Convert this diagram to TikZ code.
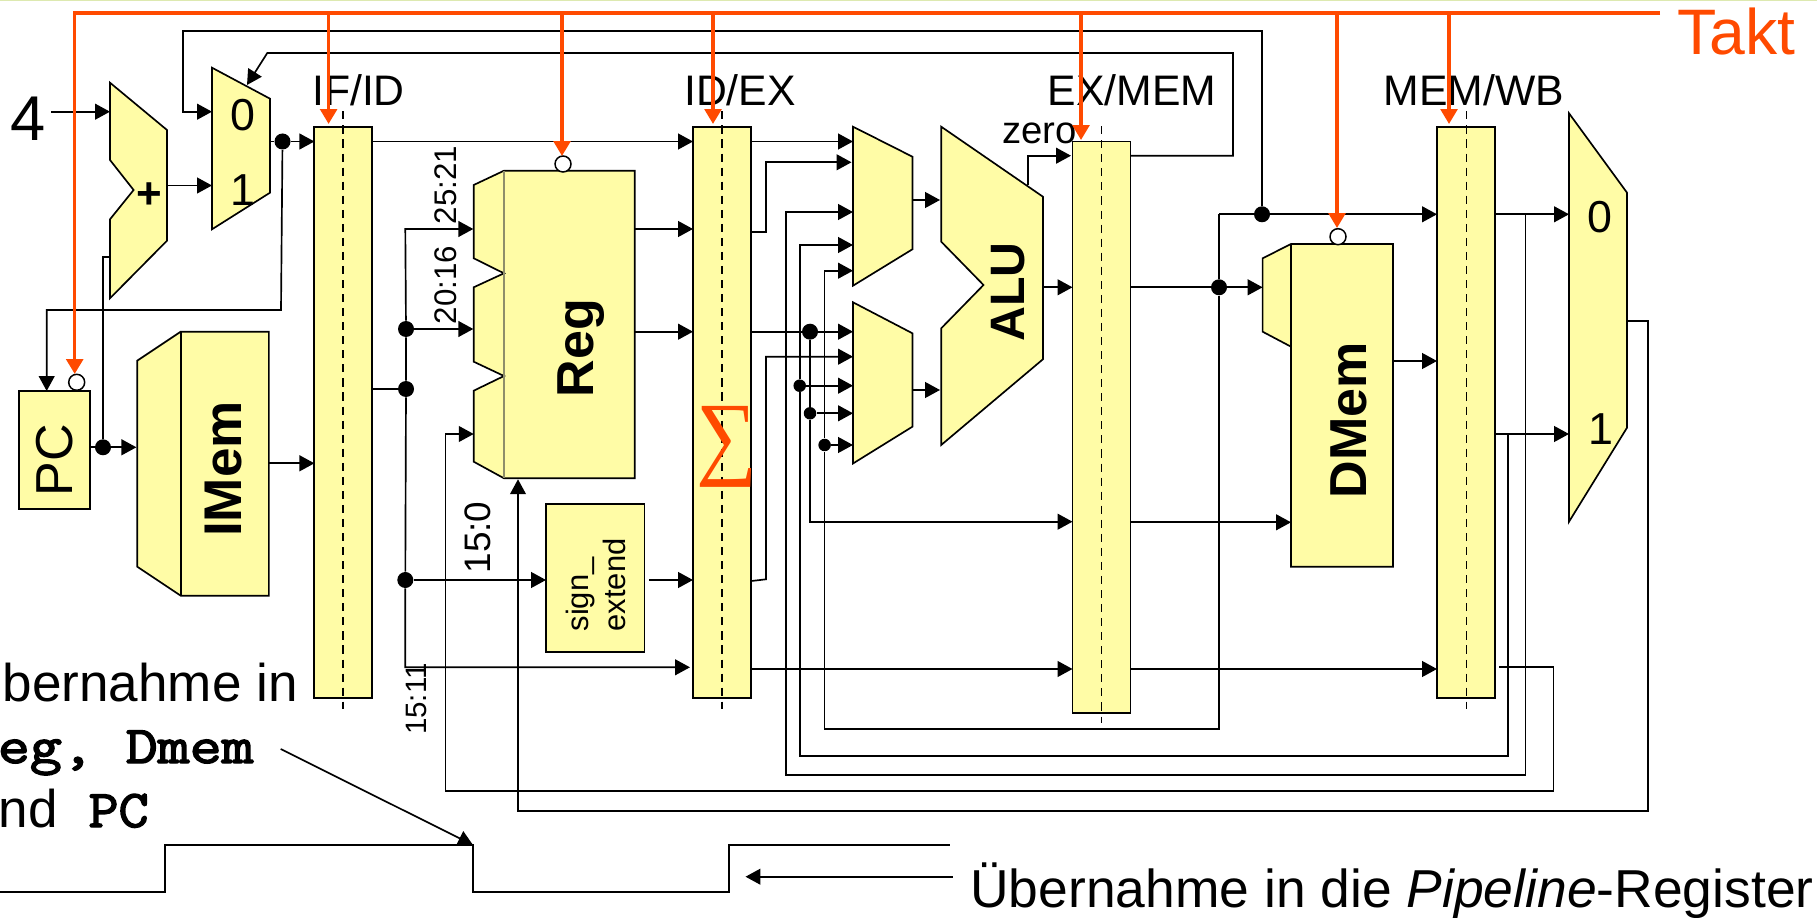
\documentclass[tikz,border=0pt]{standalone}
\usepackage{fontspec}
\setmainfont{Liberation Sans}
\newfontfamily\codefont{Latin Modern Mono}[FakeBold=2.6]
\newfontfamily\sigmafont{Liberation Serif}
\usepackage{graphicx}
\definecolor{RegYellow}{HTML}{FFFCA6}
\definecolor{ClockRed}{HTML}{FF4A00}
\definecolor{TopGreen}{HTML}{DDE9B0}
\definecolor{EdgeGray}{HTML}{8E8E6A}
\usetikzlibrary{arrows.meta}
\begin{document}
\begin{tikzpicture}[x=0.02cm, y=-0.02cm]

\tikzset{
  wire/.style={black, line width=0.95pt},
  wirearrow/.style={wire, -{Triangle[length=8.5pt, width=9pt]}},
  block/.style={draw=black, fill=RegYellow, line width=0.95pt},
  regbox/.style={block, rectangle, inner sep=0pt, minimum width=1.16cm, minimum height=11.43cm},
  regdash/.style={black, line width=0.9pt, dash pattern=on 4.6pt off 3.4pt},
  clockwire/.style={ClockRed, line width=2pt},
  clockarrow/.style={clockwire, -{Triangle[length=8.5pt, width=9.5pt]}},
  clockpin/.style={circle, draw=black, fill=white, line width=0.85pt, inner sep=0pt, minimum size=0.32cm},
  junction/.style={circle, fill=black, inner sep=0pt, minimum size=0.32cm},
  smalljunction/.style={circle, fill=black, inner sep=0pt, minimum size=0.25cm},
  reglabel/.style={inner sep=0pt, anchor=base, font=\fontsize{24.3}{29}\selectfont},
  muxlabel/.style={inner sep=0pt, font=\fontsize{25.5}{30}\selectfont},
  unitlabel/.style={inner sep=0pt, rotate=90, font=\fontsize{29.6}{35}\selectfont\bfseries},
  bitlabel/.style={inner sep=0pt, rotate=90, font=\fontsize{17.8}{21}\selectfont},
  notetext/.style={inner sep=0pt, anchor=base east, font=\fontsize{30.2}{36}\selectfont},
}

  \useasboundingbox (0,0) rectangle (1817,918);
  \clip (0,0) rectangle (1817,918);
  \fill[TopGreen] (0,0) rectangle (1817,1.5);

  % ── Pins and corners ──────────────────────────────────────
  \foreach \n/\x/\y in {
    fourout/51.4/111.7, addin/110/111.7, addout/167/185.5, addcin/110/257.3, addcorner/103/257.3,
    muxa/212/111.7, muxb/212/185.5, muxsel/247/85, muxout/270/141.5,
    brtr/1262/31, brtl/182.7/31, brbl/182.7/111.7,
    selstart/1130.6/155.7, selbr/1233/155.7, seltr/1233/53, seltl/267.3/53,
    ifin/314.4/141.5, fba/281/310, fbb/46.7/310, pcin/46.7/391, pcout/90/447.3,
    imin/136.4/447.3, imout/269/463.3, ifin2/314.4/463.3,
    ifout/372/141.5, ifout2/372/389, idin/693/141.5,
    bustop/405.3/229, busbot/405.3/667.3, regina/473.3/229, reginb/473.3/329,
    sein/546/580, seout/649.4/580, idinse/693/580, idinbus/690/667.3,
    regouta/634.8/229, regoutb/634.8/331.7, idina/693/229, idinb/693/331.7,
    wrstart/1499/666.7, wra/1553.5/666.7, wrb/1553.5/790.7, wrc/445.6/790.7, wrd/445.6/434, wrend/473.7/434,
    wdstart/1627/321, wda/1648/321, wdb/1648/811, wdc/518/811, wdend/518/479.3,
    idout/751.4/141.5, aina/853/141.5,
    idoutb/751.4/232.3, ibb/766/232.3, ibc/766/162.3, ainb/851.5/162.3,
    idoutc/751.4/331.7, bina/853/331.7,
    idoutd/751.4/581, idd/766/579.3, ide/766/356.7, binb/853/356.7,
    bind/853/413.3, dropb/810/521.7, exinb/1072.5/521.7,
    fa/1525.5/214.3, fb/1525.5/775.3, fc/786/775.3, fd/786/212, ainc/853/212,
    ga/1508/434, gb/1508/756, gc/799.7/756, gd/799.7/245, aind/853/245, binc/853/385.7,
    ha/1219/214.3, hb/1219/729.3, hc/824.6/729.3, hd/824.6/270.7, aine/853/270.7, bine/853/445,
    aout/912.4/200, alua/940/200, bout/912.4/390, alub/940/390,
    zeroa/1028/185, zerob/1028/155.7, zeroc/1071/155.7,
    aluout/1042.9/287.3, exina/1072.5/287.3,
    idoutf/751.4/669, exinc/1072.5/669,
    exouta/1130.6/287.3, dmina/1262.6/287.3,
    exoutb/1130.6/522.3, dminb/1291/522.3,
    exoutc/1130.6/669, wbinc/1437/669, wbin/1437/214.3,
    dmout/1393/361, wbinb/1437/361,
    wbouta/1495/214.3, wbmuxa/1569/214.3,
    wboutb/1495/434, wbmuxb/1569/434,
    notefrom/280.7/749, edgea/473/845, waveaa/0/891.7, waveab/165/891.7, waveac/165/845,
    wavead/473/891.7, waveae/729/891.7, waveaf/729/845, waveag/950/845,
    notearrowa/952.7/876.7, notearrowb/745.5/876.7
  }{
    \coordinate (\n) at (\x,\y);
  }

  % ── Labels of the pipeline registers ──────────────────────
  \node[reglabel] (ifidlabel) at (358.5,106) {IF/ID};
  \node[reglabel] (idexlabel) at (740,106) {ID/EX};
  \node[reglabel] (exmemlabel) at (1132,106) {EX/MEM};
  \node[reglabel] (memwblabel) at (1474,106) {MEM/WB};

  % ── Wires ─────────────────────────────────────────────────
  \node[junction] (dotpc) at (282.5,141.5) {};
  \node[junction] (dotim) at (103,447.3) {};
  \node[junction] (dotrt) at (406,329) {};
  \node[junction] (dotdec) at (406,389) {};
  \node[junction] (dotse) at (405.3,580) {};
  \node[junction] (dotb) at (810,331.7) {};
  \node[smalljunction] (dotbb) at (810,413.3) {};
  \node[smalljunction] (dotg) at (799.7,385.7) {};
  \node[smalljunction] (doth) at (824.6,445) {};
  \node[junction] (dotm) at (1219,287.3) {};
  \node[junction] (dotbr) at (1262,214.3) {};

  \draw[wirearrow] (fourout) -- (addin);
  \draw[wirearrow] (addout) -- (muxb);
  \draw[wirearrow] (dotbr) -- (brtr) -- (brtl) -- (brbl) -- (muxa);
  \draw[wirearrow] (selstart) -- (selbr) -- (seltr) -- (seltl) -- (muxsel);
  \draw[wire] (muxout) -- (dotpc);
  \draw[wirearrow] (dotpc) -- (ifin);
  \draw[wirearrow] (dotpc) -- (fba) -- (fbb) -- (pcin);
  \draw[wire] (pcout) -- (dotim);
  \draw[wirearrow] (dotim) -- (imin);
  \draw[wire] (dotim) -- (addcorner) -- (addcin);
  \draw[wirearrow] (imout) -- (ifin2);
  \draw[wirearrow] (ifout) -- (idin);
  \draw[wire] (ifout2) -- (dotdec);
  \draw[wirearrow] (dotdec) -- (dotrt) -- (bustop) -- (regina);
  \draw[wirearrow] (dotrt) -- (reginb);
  \draw[wirearrow] (dotdec) -- (dotse) -- (busbot) -- (idinbus);
  \draw[wirearrow] (dotse) -- (sein);
  \draw[wirearrow] (seout) -- (idinse);
  \draw[wirearrow] (regouta) -- (idina);
  \draw[wirearrow] (regoutb) -- (idinb);
  \draw[wirearrow] (wrstart) -- (wra) -- (wrb) -- (wrc) -- (wrd) -- (wrend);
  \draw[wirearrow] (wdstart) -- (wda) -- (wdb) -- (wdc) -- (wdend);

  \draw[wirearrow] (idout) -- (aina);
  \draw[wirearrow] (idoutb) -- (ibb) -- (ibc) -- (ainb);
  \draw[wire] (idoutc) -- (dotb);
  \draw[wirearrow] (dotb) -- (bina);
  \draw[wirearrow] (idoutd) -- (idd) -- (ide) -- (binb);
  \draw[wirearrow] (dotb) -- (dotbb) -- (dropb) -- (exinb);
  \draw[wirearrow] (dotbb) -- (bind);
  \draw[wirearrow] (fa) -- (fb) -- (fc) -- (fd) -- (ainc);
  \draw[wirearrow] (ga) -- (gb) -- (gc) -- (dotg) -- (gd) -- (aind);
  \draw[wirearrow] (dotg) -- (binc);
  \draw[wirearrow] (ha) -- (dotm) -- (hb) -- (hc) -- (doth) -- (hd) -- (aine);
  \draw[wirearrow] (doth) -- (bine);
  \draw[wire] (ha) -- (dotbr);
  \draw[wirearrow] (dotbr) -- (wbin);
  \draw[wirearrow] (aout) -- (alua);
  \draw[wirearrow] (bout) -- (alub);
  \draw[wirearrow] (zeroa) -- (zerob) -- (zeroc);
  \draw[wirearrow] (aluout) -- (exina);
  \draw[wirearrow] (idoutf) -- (exinc);
  \draw[wire] (exouta) -- (dotm);
  \draw[wirearrow] (dotm) -- (dmina);
  \draw[wirearrow] (exoutb) -- (dminb);
  \draw[wirearrow] (exoutc) -- (wbinc);
  \draw[wirearrow] (dmout) -- (wbinb);
  \draw[wirearrow] (wbouta) -- (wbmuxa);
  \draw[wirearrow] (wboutb) -- (wbmuxb);

  % ── Pipeline registers ────────────────────────────────────
  \node[regbox] (ifid) at (343.2,412.4) {};
  \node[regbox] (idex) at (722.2,412.4) {};
  \node[regbox] (exmem) at (1101.5,427.2) {};
  \node[regbox] (memwb) at (1466.3,412.4) {};
  \foreach \r in {ifid,idex,memwb}{
    \draw[regdash] ([yshift=0.29cm]\r.north) -- ([yshift=-0.2cm]\r.south);
  }
  \draw[regdash] ([yshift=0.29cm]exmem.north) -- ([yshift=-0.18cm]exmem.south);

  % ── Units ─────────────────────────────────────────────────
  \node[block, rectangle, inner sep=0pt, minimum width=1.42cm, minimum height=2.36cm] (pcbox) at (54.5,450) {};
  \node[inner sep=0pt, rotate=90, font=\fontsize{29.6}{35}\selectfont] (pctext) at (55,460) {PC};

  % adder
  \draw[block] (110,82.7) -- (167,130) -- (167,240.7) -- (110,298.3) -- (110,219.3) -- (133.6,190) -- (110,160) -- cycle;
  \node[inner sep=0pt, font=\fontsize{25}{30}\selectfont\bfseries] (plus) at (149,196) {+};
  \node[inner sep=0pt, anchor=base, font=\fontsize{36}{43}\selectfont] (four) at (28.5,141) {4};

  % next-pc multiplexer
  \draw[block] (212,67.7) -- (270,98.7) -- (270,192.7) -- (212,229.3) -- cycle;
  \node[muxlabel] (muxzero) at (242.5,115.5) {0};
  \node[muxlabel] (muxone) at (242.5,190.5) {1};

  % instruction memory
  \draw[block] (180.7,331.7) -- (268.9,331.7) -- (268.9,595.7) -- (180.7,595.7) -- (137.2,566.7) -- (137.2,360.7) -- cycle;
  \draw[wire] (180.7,331.7) -- (180.7,595.7);
  \node[unitlabel, font=\fontsize{30.2}{35}\selectfont\bfseries] (imemtext) at (224,469) {IMem};

  % register file
  \draw[block] (504,170.7) -- (634.8,170.7) -- (634.8,478.3) -- (504,478.3) -- (473.7,461.7) -- (473.7,390.7)
    -- (504,376) -- (473.7,361.7) -- (473.7,287.3) -- (504,273.3) -- (473.7,258.3) -- (473.7,185) -- cycle;
  \draw[EdgeGray, line width=0.7pt] (504,170.7) -- (504,478.3);
  \node[unitlabel] (regtext) at (581,348) {Reg};

  % sign extension
  \node[block, rectangle, inner sep=0pt, minimum width=1.97cm, minimum height=2.95cm] (signext) at (595.2,578) {};
  \node[inner sep=0pt, rotate=90, align=left, font=\fontsize{17.6}{21}\selectfont] (signtext) at (596,585) {sign\_\\extend};

  % bit fields
  \node[bitlabel] (bita) at (446,185) {25:21};
  \node[bitlabel] (bitb) at (446,285) {20:16};
  \node[bitlabel, font=\fontsize{21}{25}\selectfont] (bitc) at (477.5,537.5) {15:0};
  \node[bitlabel, font=\fontsize{16.8}{20}\selectfont] (bitd) at (416,699) {15:11};

  % forwarding multiplexers
  \draw[block] (853,126.7) -- (912.4,156.7) -- (912.4,249.3) -- (853,285.7) -- cycle;
  \draw[block] (853,302.3) -- (912.4,333.3) -- (912.4,426.7) -- (853,463.5) -- cycle;

  % ALU
  \draw[block] (941.2,126.7) -- (1042.9,196.7) -- (1042.9,359.3) -- (941.2,445) -- (941.2,328.3) -- (983.5,285) -- (941.2,241.7) -- cycle;
  \node[unitlabel, font=\fontsize{27.5}{33}\selectfont\bfseries] (alutext) at (1008,292) {ALU};
  \node[inner sep=0pt, anchor=base, font=\fontsize{21.8}{26}\selectfont] (zerotext) at (1039.5,144) {zero};

  % data memory
  \draw[block] (1291,244) -- (1393,244) -- (1393,566.7) -- (1291,566.7) -- (1291,346.7) -- (1262.6,331.7) -- (1262.6,258.3) -- cycle;
  \draw[wire] (1291,244) -- (1291,346.7);
  \node[unitlabel] (dmemtext) at (1349,420) {DMem};

  % write-back multiplexer
  \draw[block] (1569,113.3) -- (1627,192.7) -- (1627,427.7) -- (1569,521.7) -- cycle;
  \node[muxlabel] (wbzero) at (1600,217) {0};
  \node[muxlabel] (wbone) at (1601,429) {1};

  % ── Clock ─────────────────────────────────────────────────
  \node[clockpin] (pcclk) at (76.7,382.3) {};
  \node[clockpin] (regclk) at (563,164) {};
  \node[clockpin] (dmemclk) at (1338,236.7) {};

  \coordinate (clkend) at (1660,13);
  \coordinate (clkcorner) at (74.7,13);
  \coordinate (clkpc) at (74.7,374);
  \draw[clockarrow] (clkend) -- (clkcorner) -- (clkpc);
  \foreach \n/\x/\y in {ifid/328.6/124, reg/562/156, idex/713/124, exmem/1081/140, dmem/1337/228, memwb/1449/124}{
    \coordinate (clk\n) at (\x,\y);
    \draw[clockarrow] (clkend -| clk\n) -- (clk\n);
  }
  \node[inner sep=0pt, anchor=base west, ClockRed, font=\fontsize{36.6}{44}\selectfont] (takt) at (1677,54.5) {Takt};
  \node[inner sep=0pt, ClockRed] (sigma) at (726.5,447) {\resizebox*{1.22cm}{1.62cm}{\sigmafont\fontsize{40}{48}\selectfont ∑}};

  % ── Timing waveform and notes ─────────────────────────────
  \draw[wire] (waveaa) -- (waveab) -- (waveac) -- (edgea) -- (wavead) -- (waveae) -- (waveaf) -- (waveag);
  \draw[wirearrow] (notefrom) -- (edgea);
  \draw[wirearrow] (notearrowa) -- (notearrowb);
  \node[notetext] (notea) at (298,701) {bernahme in};
  \node[notetext] (noteb) at (254,763) {\scalebox{1.17}[1]{\codefont eg, Dmem}};
  \node[notetext] (notec) at (149,827) {nd\hspace{0.62cm}\scalebox{1.1}[1]{\codefont PC}};
  \node[inner sep=0pt, anchor=base west, font=\fontsize{30.4}{36}\selectfont] (noted) at (970,907.5) {Übernahme in die \textit{Pipeline}-Register};

\end{tikzpicture}
\end{document}
